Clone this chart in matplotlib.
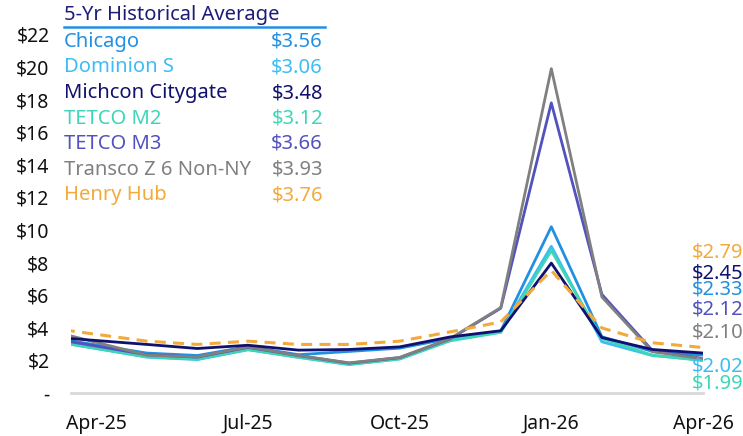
import matplotlib
matplotlib.use("Agg")
import matplotlib.pyplot as plt
from matplotlib.lines import Line2D

plt.rcParams['font.family'] = ['Noto Sans', 'DejaVu Sans']

# monthly prices, $/MMBtu (Mar-25 only feeds the clipped left edge)
months = ['Mar-25', 'Apr-25', 'May-25', 'Jun-25', 'Jul-25', 'Aug-25', 'Sep-25',
          'Oct-25', 'Nov-25', 'Dec-25', 'Jan-26', 'Feb-26', 'Mar-26', 'Apr-26']
chicago = [3.45, 2.95, 2.45, 2.30, 2.85, 2.35, 2.55, 2.75, 3.35, 3.80, 10.20, 3.45, 2.55, 2.33]
dominion_s = [3.27, 2.73, 2.20, 2.05, 2.65, 2.20, 1.75, 2.10, 3.25, 3.75, 9.00, 3.14, 2.30, 2.02]
michcon = [3.46, 3.22, 2.98, 2.73, 2.93, 2.63, 2.67, 2.83, 3.44, 3.82, 7.97, 3.40, 2.67, 2.45]
tetco_m2 = [3.23, 2.73, 2.22, 2.08, 2.67, 2.18, 1.75, 2.08, 3.20, 3.72, 8.74, 3.34, 2.32, 1.99]
tetco_m3 = [3.40, 2.88, 2.35, 2.20, 2.80, 2.30, 1.83, 2.17, 3.32, 5.20, 17.80, 6.05, 2.60, 2.12]
transco_z6 = [3.89, 3.11, 2.32, 2.22, 2.83, 2.30, 1.85, 2.18, 3.34, 5.24, 19.90, 5.89, 2.53, 2.10]
henry_hub = [4.02, 3.60, 3.18, 2.98, 3.18, 2.98, 2.98, 3.18, 3.75, 4.36, 7.52, 3.99, 3.08, 2.79]

names = ['Chicago', 'Dominion S', 'Michcon Citygate', 'TETCO M2', 'TETCO M3',
         'Transco Z 6 Non-NY', 'Henry Hub']
hist_avg = [3.56, 3.06, 3.48, 3.12, 3.66, 3.93, 3.76]
colors = ['#2290e2', '#3dbcf4', '#10106e', '#3ed6b6', '#5252bf', '#808080', '#f2aa3c']
series = [chicago, dominion_s, michcon, tetco_m2, tetco_m3, transco_z6, henry_hub]

# end-label vertical slots (data units) and drawing order of the end labels
end_order = [6, 2, 0, 4, 5, 1, 3]
end_y = [8.65, 7.36, 6.32, 5.15, 3.74, 1.60, 0.61]

fs = 14.5

fig = plt.figure(figsize=(7.43, 4.36), dpi=100)
ax = fig.add_axes([71 / 743, 1 - 393 / 436, (703 - 71) / 743, (393 - 34.4) / 436])

x = list(range(-1, len(months) - 1))
for i, (s, c) in enumerate(zip(series, colors)):
    if names[i] == 'Henry Hub':
        ax.plot(x, s, color=c, lw=2.2, dashes=(3.6, 2.4), zorder=5)
    else:
        ax.plot(x, s, color=c, lw=2.0, zorder=3 + (1 if names[i] == 'Michcon Citygate' else 0))

ax.set_xlim(-0.5, 12)
ax.set_ylim(0, 22)
ax.set_xticks([0, 3, 6, 9, 12])
ax.set_xticklabels([months[i + 1] for i in [0, 3, 6, 9, 12]])
ax.set_yticks(range(0, 23, 2))
ax.set_yticklabels(['-'] + ['$%d' % v for v in range(2, 23, 2)])
ax.tick_params(length=0, labelsize=14, colors='#111111')
ax.tick_params(axis='x', pad=15)
ax.tick_params(axis='y', pad=15.5)
for sp in ['top', 'right', 'left']:
    ax.spines[sp].set_visible(False)
ax.spines['bottom'].set_color('#d9d9d9')
ax.spines['bottom'].set_linewidth(2)

# end-of-series labels
for k, idx in enumerate(end_order):
    ax.text(11.78, end_y[k], '$%.2f' % series[idx][-1], color=colors[idx],
            fontsize=fs, ha='left', va='center', clip_on=False)

# legend table with 5-year averages
fig.text(64 / 743, 1 - 15 / 436, '5-Yr Historical Average', color='#1c1c78',
         fontsize=fs, ha='left', va='center')
fig.add_artist(Line2D([64 / 743, 325 / 743], [1 - 27 / 436, 1 - 27 / 436],
                      color='#2290e2', lw=1.8))
for i, (n, v, c) in enumerate(zip(names, hist_avg, colors)):
    yy = 1 - (42 + i * 25.5) / 436
    fig.text(64 / 743, yy, n, color=c, fontsize=fs, ha='left', va='center')
    fig.text(323 / 743, yy, '$%.2f' % v, color=c, fontsize=fs, ha='right', va='center')

fig.savefig('out.png', dpi=100)
